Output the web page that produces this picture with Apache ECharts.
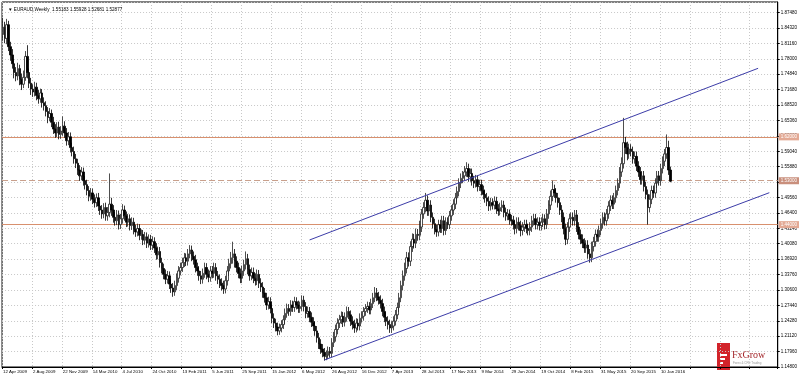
<!DOCTYPE html>
<html><head><meta charset="utf-8">
<script src="https://cdn.jsdelivr.net/npm/echarts@6/dist/echarts.min.js"></script>
<style>html,body{margin:0;padding:0;background:#fff}#c{width:800px;height:378px}</style>
</head><body><div id="c"></div>
<script>
// Weekly date labels (every 16 weeks)
const tickLabels = ['12 Apr 2009','2 Aug 2009','22 Nov 2009','14 Mar 2010','4 Jul 2010','24 Oct 2010','13 Feb 2011','5 Jun 2011','25 Sep 2011','15 Jan 2012','6 May 2012','26 Aug 2012','16 Dec 2012','7 Apr 2013','28 Jul 2013','17 Nov 2013','9 Mar 2014','29 Jun 2014','19 Oct 2014','8 Feb 2015','31 May 2015','20 Sep 2015','10 Jan 2016'];
const headerText = '\u25BC EURAUD,Weekly  1.55183 1.55928 1.52681 1.52877';

const opens = [
1.830,1.845,1.822,1.850,1.805,1.788,1.770,1.752,1.745,1.760,1.738,1.728,1.742,1.785,1.752,1.730,
1.718,1.712,1.722,1.705,1.698,1.710,1.690,1.684,1.672,1.660,1.668,1.650,1.636,1.628,1.640,1.625,
1.632,1.642,1.628,1.612,1.620,1.598,1.590,1.575,1.566,1.552,1.540,1.548,1.530,1.522,1.510,1.498,
1.505,1.492,1.485,1.495,1.478,1.470,1.462,1.475,1.458,1.465,1.482,1.470,1.455,1.448,1.460,1.440,
1.452,1.470,1.458,1.445,1.452,1.438,1.445,1.430,1.425,1.432,1.418,1.420,1.408,1.415,1.402,1.410,
1.398,1.405,1.392,1.378,1.385,1.362,1.350,1.338,1.328,1.335,1.318,1.310,1.302,1.315,1.330,1.345,
1.352,1.362,1.372,1.365,1.380,1.388,1.375,1.368,1.352,1.345,1.335,1.328,1.340,1.352,1.338,1.332,
1.345,1.340,1.352,1.335,1.328,1.320,1.315,1.308,1.325,1.345,1.360,1.372,1.380,1.365,1.352,1.340,
1.330,1.345,1.358,1.370,1.348,1.335,1.342,1.330,1.325,1.338,1.320,1.312,1.300,1.290,1.275,1.282,
1.268,1.248,1.238,1.230,1.222,1.228,1.235,1.245,1.258,1.268,1.262,1.275,1.270,1.282,1.275,1.268,
1.272,1.285,1.272,1.258,1.262,1.250,1.240,1.232,1.222,1.208,1.195,1.185,1.178,1.170,1.172,1.180,
1.176,1.198,1.210,1.225,1.238,1.245,1.252,1.240,1.250,1.262,1.255,1.242,1.235,1.228,1.238,1.232,
1.248,1.252,1.262,1.268,1.272,1.265,1.278,1.290,1.300,1.292,1.285,1.278,1.262,1.250,1.242,1.235,
1.228,1.232,1.242,1.255,1.270,1.290,1.315,1.335,1.350,1.372,1.365,1.395,1.410,1.402,1.420,1.418,
1.435,1.462,1.475,1.490,1.468,1.480,1.455,1.442,1.430,1.425,1.440,1.432,1.448,1.428,1.445,1.440,
1.458,1.470,1.482,1.495,1.508,1.525,1.535,1.540,1.548,1.555,1.538,1.545,1.530,1.525,1.532,1.518,
1.522,1.510,1.502,1.495,1.488,1.478,1.485,1.480,1.488,1.472,1.468,1.475,1.480,1.465,1.458,1.462,
1.450,1.448,1.440,1.432,1.445,1.438,1.428,1.435,1.440,1.432,1.428,1.435,1.448,1.452,1.440,1.445,
1.438,1.445,1.452,1.440,1.462,1.480,1.498,1.512,1.505,1.495,1.485,1.470,1.455,1.432,1.410,1.435,
1.452,1.455,1.448,1.460,1.435,1.420,1.410,1.402,1.392,1.398,1.380,1.372,1.395,1.405,1.420,1.415,
1.428,1.442,1.455,1.448,1.462,1.478,1.490,1.482,1.495,1.510,1.525,1.548,1.565,1.608,1.598,1.585,
1.595,1.590,1.575,1.580,1.560,1.548,1.532,1.540,1.518,1.502,1.475,1.492,1.510,1.505,1.525,1.540,1.530,1.555,1.570,1.585,1.598,1.552
];
const closes = [
1.845,1.822,1.850,1.805,1.788,1.770,1.752,1.745,1.760,1.738,1.728,1.742,1.785,1.752,1.730,1.718,
1.712,1.722,1.705,1.698,1.710,1.690,1.684,1.672,1.660,1.668,1.650,1.636,1.628,1.640,1.625,1.632,
1.642,1.628,1.612,1.620,1.598,1.590,1.575,1.566,1.552,1.540,1.548,1.530,1.522,1.510,1.498,1.505,
1.492,1.485,1.495,1.478,1.470,1.462,1.475,1.458,1.465,1.482,1.470,1.455,1.448,1.460,1.440,1.452,
1.470,1.458,1.445,1.452,1.438,1.445,1.430,1.425,1.432,1.418,1.420,1.408,1.415,1.402,1.410,1.398,
1.405,1.392,1.378,1.385,1.362,1.350,1.338,1.328,1.335,1.318,1.310,1.302,1.315,1.330,1.345,1.352,
1.362,1.372,1.365,1.380,1.388,1.375,1.368,1.352,1.345,1.335,1.328,1.340,1.352,1.338,1.332,1.345,
1.340,1.352,1.335,1.328,1.320,1.315,1.308,1.325,1.345,1.360,1.372,1.380,1.365,1.352,1.340,1.330,
1.345,1.358,1.370,1.348,1.335,1.342,1.330,1.325,1.338,1.320,1.312,1.300,1.290,1.275,1.282,1.268,
1.248,1.238,1.230,1.222,1.228,1.235,1.245,1.258,1.268,1.262,1.275,1.270,1.282,1.275,1.268,1.272,
1.285,1.272,1.258,1.262,1.250,1.240,1.232,1.222,1.208,1.195,1.185,1.178,1.170,1.172,1.180,1.176,
1.198,1.210,1.225,1.238,1.245,1.252,1.240,1.250,1.262,1.255,1.242,1.235,1.228,1.238,1.232,1.248,
1.252,1.262,1.268,1.272,1.265,1.278,1.290,1.300,1.292,1.285,1.278,1.262,1.250,1.242,1.235,1.228,
1.232,1.242,1.255,1.270,1.290,1.315,1.335,1.350,1.372,1.365,1.395,1.410,1.402,1.420,1.418,1.435,
1.462,1.475,1.490,1.468,1.480,1.455,1.442,1.430,1.425,1.440,1.432,1.448,1.428,1.445,1.440,1.458,
1.470,1.482,1.495,1.508,1.525,1.535,1.540,1.548,1.555,1.538,1.545,1.530,1.525,1.532,1.518,1.522,
1.510,1.502,1.495,1.488,1.478,1.485,1.480,1.488,1.472,1.468,1.475,1.480,1.465,1.458,1.462,1.450,
1.448,1.440,1.432,1.445,1.438,1.428,1.435,1.440,1.432,1.428,1.435,1.448,1.452,1.440,1.445,1.438,
1.445,1.452,1.440,1.462,1.480,1.498,1.512,1.505,1.495,1.485,1.470,1.455,1.432,1.410,1.435,1.452,
1.455,1.448,1.460,1.435,1.420,1.410,1.402,1.392,1.398,1.380,1.372,1.395,1.405,1.420,1.415,1.428,
1.442,1.455,1.448,1.462,1.478,1.490,1.482,1.495,1.510,1.525,1.548,1.565,1.608,1.598,1.585,1.595,
1.590,1.575,1.580,1.560,1.548,1.532,1.540,1.518,1.502,1.475,1.492,1.510,1.505,1.525,1.540,1.530,1.555,1.570,1.585,1.598,1.552,1.529
];
const highs = [
1.864,1.856,1.862,1.858,1.815,1.800,1.779,1.763,1.772,1.768,1.750,1.756,1.796,1.808,1.760,1.741,
1.728,1.733,1.731,1.716,1.719,1.718,1.701,1.693,1.681,1.679,1.676,1.661,1.646,1.650,1.651,1.642,
1.662,1.652,1.638,1.630,1.629,1.608,1.600,1.585,1.575,1.562,1.558,1.557,1.540,1.532,1.519,1.515,
1.514,1.502,1.504,1.505,1.488,1.480,1.484,1.485,1.476,1.545,1.495,1.480,1.466,1.470,1.469,1.462,
1.482,1.479,1.467,1.462,1.461,1.455,1.454,1.440,1.442,1.441,1.430,1.429,1.425,1.424,1.420,1.419,
1.416,1.414,1.402,1.395,1.394,1.372,1.360,1.348,1.345,1.344,1.328,1.320,1.325,1.340,1.355,1.362,
1.372,1.382,1.381,1.390,1.398,1.397,1.385,1.378,1.362,1.355,1.345,1.350,1.362,1.361,1.348,1.355,
1.355,1.362,1.361,1.345,1.338,1.330,1.325,1.335,1.355,1.370,1.384,1.405,1.390,1.375,1.362,1.350,
1.356,1.368,1.385,1.380,1.358,1.352,1.352,1.340,1.348,1.347,1.330,1.322,1.310,1.300,1.292,1.291,
1.276,1.258,1.247,1.239,1.237,1.244,1.254,1.268,1.278,1.277,1.285,1.284,1.292,1.291,1.284,1.282,
1.295,1.294,1.281,1.272,1.271,1.260,1.250,1.242,1.232,1.218,1.205,1.195,1.187,1.182,1.190,1.189,
1.207,1.220,1.235,1.248,1.255,1.262,1.261,1.260,1.272,1.271,1.264,1.252,1.245,1.248,1.247,1.258,
1.262,1.271,1.277,1.282,1.281,1.288,1.300,1.312,1.310,1.302,1.295,1.288,1.272,1.260,1.252,1.245,
1.242,1.252,1.265,1.280,1.300,1.325,1.346,1.362,1.384,1.383,1.406,1.422,1.421,1.432,1.431,1.448,
1.472,1.486,1.505,1.500,1.490,1.490,1.465,1.452,1.440,1.450,1.450,1.458,1.458,1.455,1.455,1.468,
1.480,1.492,1.505,1.518,1.535,1.545,1.550,1.560,1.568,1.565,1.555,1.555,1.540,1.542,1.541,1.532,
1.532,1.520,1.512,1.505,1.498,1.495,1.494,1.498,1.497,1.482,1.485,1.490,1.489,1.475,1.472,1.471,
1.460,1.458,1.450,1.455,1.455,1.448,1.445,1.450,1.450,1.442,1.445,1.458,1.462,1.462,1.455,1.455,
1.455,1.462,1.461,1.472,1.490,1.510,1.530,1.522,1.515,1.505,1.495,1.480,1.465,1.442,1.445,1.462,
1.465,1.465,1.470,1.470,1.445,1.430,1.420,1.412,1.408,1.408,1.390,1.405,1.415,1.430,1.430,1.438,
1.452,1.465,1.465,1.472,1.488,1.500,1.500,1.505,1.520,1.535,1.558,1.578,1.659,1.620,1.610,1.606,
1.605,1.600,1.590,1.590,1.570,1.558,1.550,1.550,1.528,1.512,1.502,1.520,1.520,1.535,1.550,1.550,1.565,1.580,1.595,1.625,1.612,1.559
];
const lows = [
1.818,1.812,1.810,1.796,1.776,1.760,1.740,1.734,1.736,1.726,1.716,1.720,1.735,1.740,1.720,1.706,
1.702,1.703,1.695,1.688,1.690,1.680,1.674,1.662,1.648,1.652,1.640,1.626,1.618,1.620,1.615,1.616,
1.622,1.618,1.602,1.603,1.588,1.580,1.565,1.556,1.542,1.530,1.531,1.520,1.512,1.500,1.488,1.489,
1.482,1.475,1.476,1.468,1.460,1.452,1.453,1.448,1.448,1.455,1.458,1.444,1.438,1.439,1.430,1.431,
1.442,1.448,1.435,1.436,1.428,1.429,1.420,1.415,1.416,1.408,1.409,1.398,1.399,1.392,1.393,1.388,
1.388,1.382,1.368,1.369,1.352,1.340,1.328,1.318,1.319,1.308,1.300,1.292,1.294,1.306,1.321,1.336,
1.343,1.353,1.355,1.356,1.371,1.365,1.358,1.342,1.335,1.325,1.318,1.319,1.331,1.328,1.322,1.323,
1.330,1.331,1.325,1.318,1.310,1.305,1.298,1.299,1.315,1.335,1.350,1.360,1.352,1.342,1.330,1.320,
1.320,1.335,1.348,1.338,1.325,1.326,1.320,1.315,1.316,1.310,1.302,1.290,1.280,1.265,1.266,1.258,
1.238,1.228,1.221,1.213,1.214,1.219,1.226,1.236,1.249,1.253,1.253,1.261,1.261,1.266,1.259,1.259,
1.263,1.262,1.248,1.249,1.240,1.230,1.222,1.212,1.198,1.185,1.175,1.168,1.161,1.162,1.164,1.167,
1.168,1.189,1.200,1.215,1.228,1.236,1.230,1.231,1.241,1.246,1.232,1.225,1.218,1.219,1.223,1.223,
1.239,1.243,1.253,1.259,1.256,1.256,1.269,1.281,1.283,1.276,1.268,1.252,1.240,1.232,1.225,1.218,
1.218,1.223,1.233,1.246,1.261,1.281,1.305,1.325,1.340,1.354,1.355,1.384,1.391,1.392,1.407,1.408,
1.425,1.452,1.465,1.458,1.458,1.445,1.432,1.420,1.415,1.416,1.423,1.423,1.418,1.419,1.431,1.431,
1.448,1.460,1.472,1.485,1.498,1.515,1.525,1.530,1.538,1.528,1.528,1.520,1.515,1.516,1.508,1.509,
1.500,1.492,1.485,1.478,1.468,1.469,1.471,1.471,1.462,1.458,1.459,1.466,1.455,1.448,1.449,1.440,
1.438,1.430,1.420,1.422,1.428,1.416,1.418,1.425,1.422,1.418,1.418,1.425,1.438,1.430,1.430,1.428,
1.428,1.435,1.430,1.431,1.452,1.470,1.488,1.495,1.485,1.475,1.460,1.445,1.420,1.398,1.400,1.425,
1.442,1.438,1.438,1.425,1.410,1.400,1.392,1.382,1.382,1.370,1.362,1.363,1.385,1.395,1.405,1.405,
1.418,1.432,1.438,1.438,1.452,1.468,1.472,1.472,1.485,1.500,1.515,1.538,1.555,1.585,1.572,1.575,
1.580,1.565,1.565,1.550,1.538,1.522,1.522,1.508,1.492,1.440,1.465,1.482,1.495,1.495,1.515,1.520,1.520,1.545,1.560,1.575,1.542,1.527
];
// Horizontal levels and channel lines: [week index, price]
const levelSolid = [1.6238, 1.4392];
const levelDashed = [1.5254];
const upperTrend = [[164, 1.4085], [404, 1.7606]];
const lowerTrend = [[172, 1.1624], [410, 1.5055]];

const totalSlots = 415;
const cats = [];
for (let i = 0; i < totalSlots; i++) cats.push(i);
const candles = opens.map((o, i) => [o, closes[i], lows[i], highs[i]]);

const FONT = 'Liberation Sans';
const chart = echarts.init(document.getElementById('c'), null, {renderer: 'canvas'});
const lvlLabel = {show: true, position: 'end', distance: 1, formatter: p => p.value.toFixed(5),
  color: '#fff', backgroundColor: '#e3a994', fontSize: 4.5, padding: [1, 2], fontFamily: FONT};
chart.setOption({
  animation: false,
  backgroundColor: '#ffffff',
  title: {text: headerText, left: 3, top: 2, textStyle: {fontSize: 4.6, fontWeight: 'normal', color: '#000', fontFamily: FONT}},
  grid: {left: 0, right: 18, top: 2, bottom: 11, show: true, borderColor: '#000', borderWidth: 1},
  xAxis: {
    type: 'category', data: cats, boundaryGap: true,
    axisLine: {lineStyle: {color: '#000'}},
    axisTick: {show: true, interval: (i) => i % 16 === 0, length: 2, lineStyle: {color: '#000'}},
    axisLabel: {interval: (i) => i % 16 === 0, showMinLabel: true, formatter: (v, i) => tickLabels[Math.round(i / 16)] || '',
      fontSize: 4.4, color: '#000', align: 'left', margin: 3, fontFamily: FONT},
    splitLine: {show: true, interval: (i) => i % 16 === 0, lineStyle: {color: '#c8c8c8', type: [1, 2]}}
  },
  yAxis: {
    type: 'value', position: 'right', scale: true,
    min: 1.1480, max: 1.8966, interval: 0.0316,
    axisLine: {show: true, lineStyle: {color: '#000'}},
    axisTick: {show: true, length: 2, lineStyle: {color: '#000'}},
    axisLabel: {formatter: v => v.toFixed(5), fontSize: 4.5, color: '#000', margin: 3, showMaxLabel: false, fontFamily: FONT},
    splitLine: {show: true, lineStyle: {color: '#c8c8c8', type: [1, 2]}}
  },
  series: [
    {type: 'candlestick', data: candles, barWidth: 2, z: 4,
      itemStyle: {color: '#ffffff', color0: '#000000', borderColor: '#222222', borderColor0: '#000000', borderWidth: 0.8},
      markLine: {symbol: 'none', silent: true, animation: false, z: 3,
        data: [
          {yAxis: levelSolid[0], lineStyle: {color: '#d8906e', type: 'solid', width: 1.2}, label: lvlLabel},
          {yAxis: levelDashed[0], lineStyle: {color: '#c9a08c', type: [6, 3], width: 1.2}, label: Object.assign({}, lvlLabel, {backgroundColor: '#c98f7c'})},
          {yAxis: levelSolid[1], lineStyle: {color: '#d8906e', type: 'solid', width: 1.2}, label: lvlLabel}
        ]}
    },
    {type: 'line', data: upperTrend, symbol: 'none', lineStyle: {color: '#3c3ca8', width: 1}, z: 5},
    {type: 'line', data: lowerTrend, symbol: 'none', lineStyle: {color: '#3c3ca8', width: 1}, z: 5}
  ],
  graphic: [
    {type: 'rect', left: 717, top: 343, shape: {width: 13, height: 27}, style: {fill: '#d2232a'}},
    {type: 'rect', left: 720, top: 354, shape: {width: 7, height: 2}, style: {fill: '#fff'}},
    {type: 'rect', left: 720, top: 358, shape: {width: 5, height: 2}, style: {fill: '#fff'}},
    {type: 'rect', left: 720, top: 362, shape: {width: 3, height: 2}, style: {fill: '#fff'}},
    {type: 'text', left: 732, top: 350, style: {text: 'FxGrow', fill: '#a3262a', font: '10px "Liberation Serif", serif'}},
    {type: 'text', left: 733, top: 362, style: {text: 'Forex & CFD Trading', fill: '#999', font: '3px "Liberation Sans"'}}
  ]
});
</script>
</body></html>
